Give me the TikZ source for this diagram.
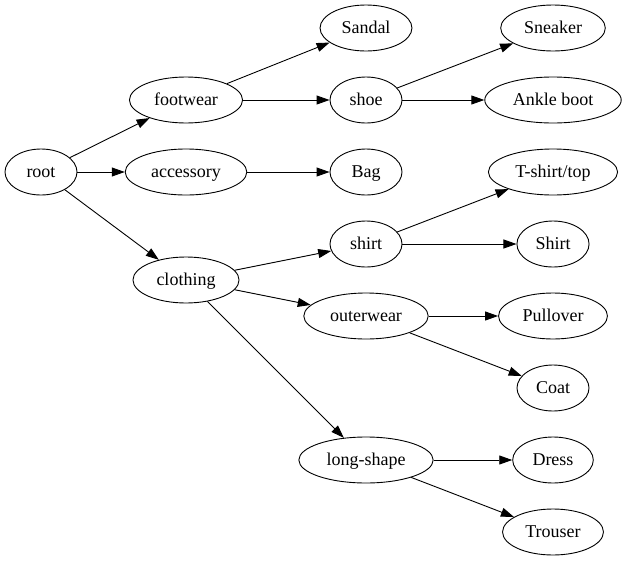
\documentclass[tikz,border=0pt]{standalone}
\usepackage{fontspec}
\setmainfont{Liberation Serif}
\usepackage{tikz}
\usetikzlibrary{arrows.meta,positioning,shapes}

\begin{document}
\begin{tikzpicture}[x=1pt,y=-1pt,->,>={Triangle[length=13pt,width=9pt]},
	line width=0.9pt, on grid,
	tree node/.style={ellipse,inner sep=8pt,draw,line width=0.9pt,
		font=\fontsize{18}{20}\selectfont, text height=13.5pt, text depth=2.5pt,
		minimum height = 46pt, minimum width = 72pt}]
	\useasboundingbox (0,0) rectangle (630,563);

    \node[tree node] (root) at (41,172) {root};
    % first level
    \node[tree node] (foot) [above right = 72pt and 145pt of root] {footwear};
    \node[tree node] (acc) [right = 145pt of root] {accessory};
    \node[tree node] (cloth) [below right = 108pt and 145pt of root] {clothing};
    % second level
    \node[tree node] (sandal) [above right = 72pt and 180pt of foot] {Sandal};
    \node[tree node] (shoe) [right = 180pt of foot] {shoe};
    \node[tree node] (bag) [right = 180pt of acc] {Bag};
    \node[tree node] (shirt) [above right = 36pt and 180pt of cloth] {shirt};
    \node[tree node] (outer) [below right = 36pt and 180pt of cloth] {outerwear};
    \node[tree node] (long) [below right = 180pt and 180pt of cloth] {long-shape};
    % leaves
    \node[tree node] (sneaker) [above right = 72pt and 187pt of shoe] {Sneaker};
    \node[tree node] (ankle) [right = 187pt of shoe] {Ankle boot};
    \node[tree node] (tshirt) [above right = 72pt and 187pt of shirt] {T-shirt/top};
    \node[tree node] (Shirt) [right = 187pt of shirt] {Shirt};
    \node[tree node] (pull) [right = 187pt of outer] {Pullover};
    \node[tree node] (coat) [below right = 72pt and 187pt of outer] {Coat};
    \node[tree node] (dress) [right = 187pt of long] {Dress};
    \node[tree node] (trouser) [below right = 72pt and 187pt of long] {Trouser};

	\path
	(root) edge (foot)
	(root) edge (acc)
	(root) edge (cloth)
	(foot) edge (sandal)
	(foot) edge (shoe)
	(acc) edge (bag)
	(cloth) edge (shirt)
	(cloth) edge (outer)
	(cloth) edge (long)
	(shoe) edge (sneaker)
	(shoe) edge (ankle)
	(shirt) edge (tshirt)
	(shirt) edge (Shirt)
	(outer) edge (pull)
	(outer) edge (coat)
	(long) edge (dress)
	(long) edge (trouser);

\end{tikzpicture}
\end{document}
